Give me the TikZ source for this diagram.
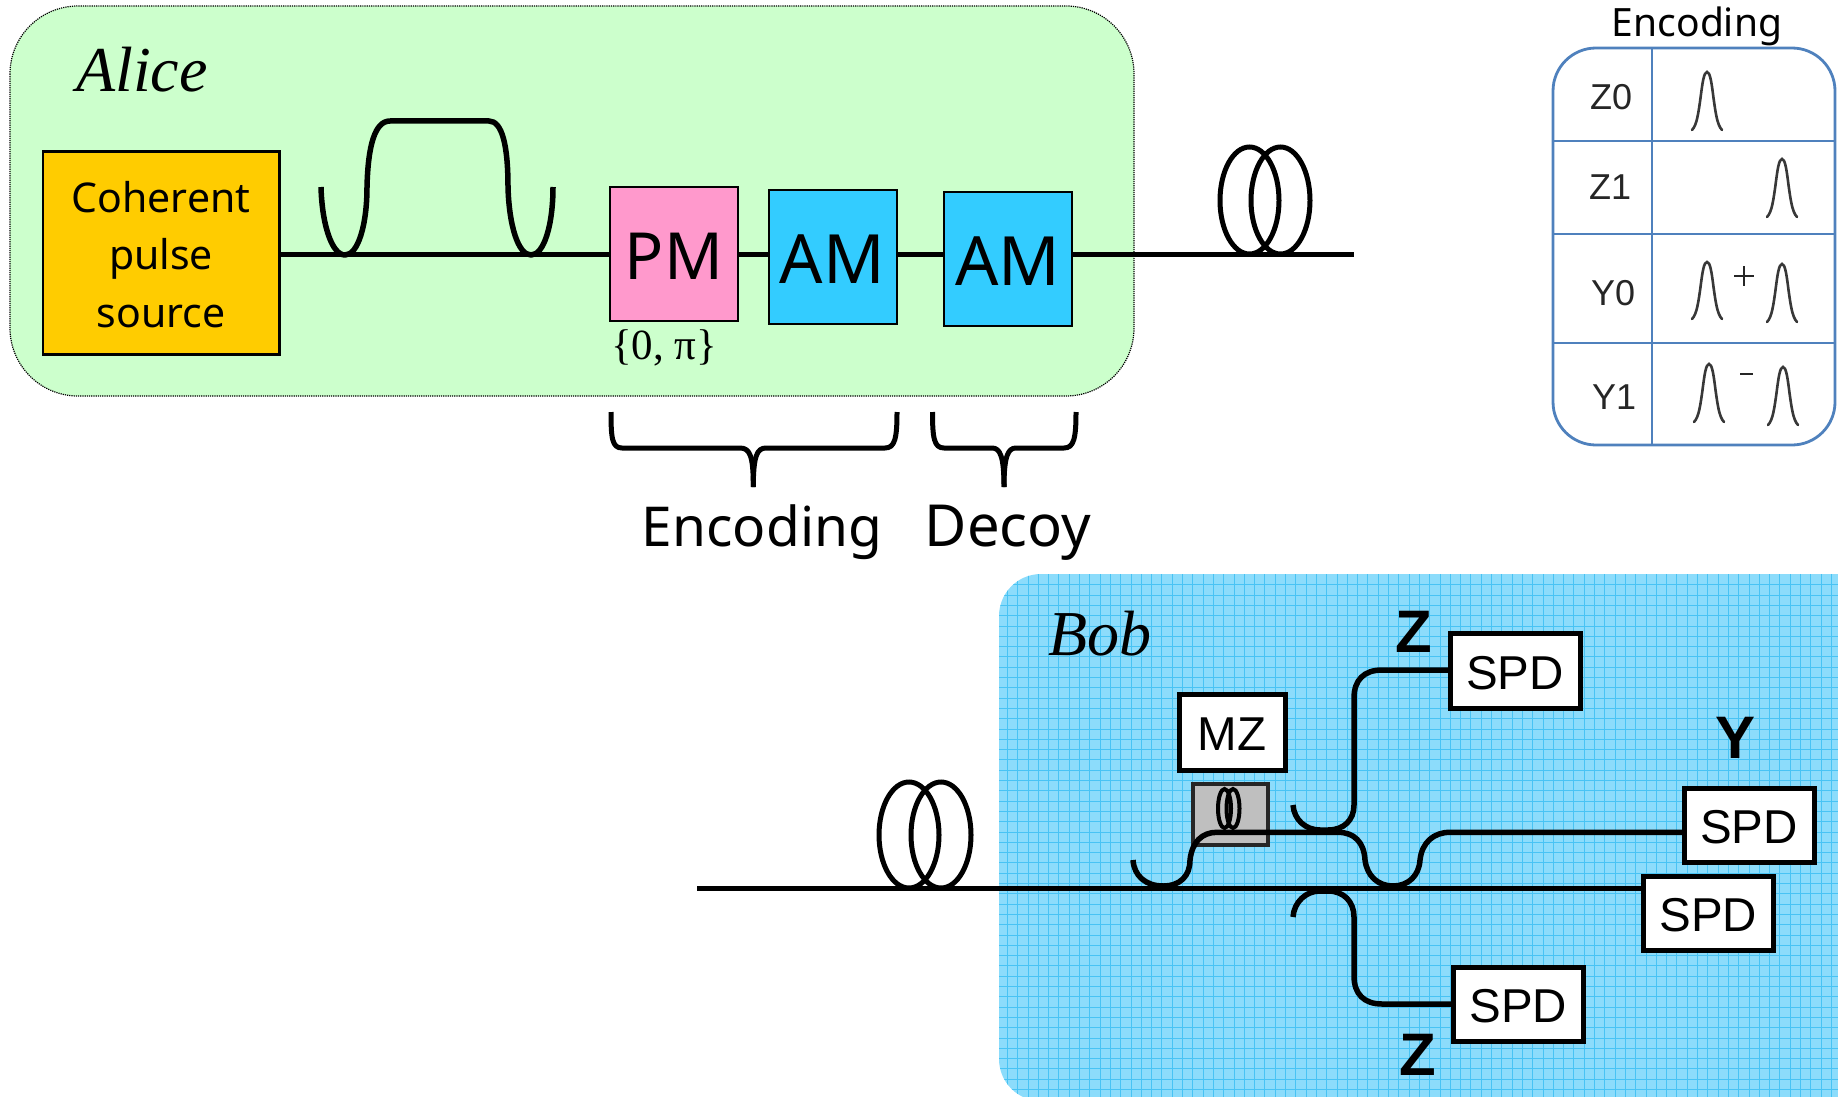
\documentclass[tikz,border=0pt]{standalone}
\usepackage{fontspec}
\setmainfont{Noto Sans}
\newfontfamily\timesf{Liberation Serif}
\newfontfamily\arialf{Liberation Sans}
\usetikzlibrary{calc}
\definecolor{alicefill}{HTML}{CCFFCC}
\definecolor{bobfill}{HTML}{8CDCFB}
\definecolor{bobgrid}{HTML}{48C3F4}
\definecolor{srcfill}{HTML}{FFCC00}
\definecolor{pmfill}{HTML}{FF99CC}
\definecolor{amfill}{HTML}{33CCFF}
\definecolor{tabline}{HTML}{4F81BD}
\newcommand{\fs}[1]{\fontsize{#1}{#1}\selectfont}
\newcommand{\lowered}[1]{\raisebox{-2pt}[\height][0pt]{#1}}
\tikzset{
  x=1pt,y=-1pt,
  fibre/.style={line width=5.5pt,line cap=butt,line join=round},
  bracket/.style={line width=5pt,line cap=butt,line join=round},
  srcbox/.style={draw=black,line width=2.2pt,fill=srcfill,align=center,inner sep=0pt},
  modbox/.style={draw=black,line width=2pt,inner sep=0pt},
  spdbox/.style={draw=black,line width=5pt,fill=white,inner sep=0pt,font=\arialf\fs{47.5}},
  coil/.style={draw=black,line width=5pt},
  basislab/.style={font=\arialf\bfseries\fs{60},inner sep=0pt},
  celllab/.style={font=\arialf\fs{36},text=black!85,inner sep=0pt},
  tab/.style={draw=tabline,line width=2.8pt},
  pulse/.style={draw=black!78,line width=2.6pt,line cap=round},
}
\newcommand{\boxnode}[7]{% name, style, x0,y0,x1,y1 (centre lines), text
  \node[#2,outer sep=0pt,minimum width=#5pt-#3pt,minimum height=#6pt-#4pt,anchor=north west] (#1) at (#3,#4) {#7};}
\newcommand{\pulseshape}[3]{% peak x, peak y, base y
  \draw[pulse] (#1-15,#3) .. controls (#1-10,#3-5) and (#1-8.5,#3-18) .. (#1-6.5,#3-32)
    .. controls (#1-4.5,#3-48) and (#1-3,#2) .. (#1,#2)
    .. controls (#1+3,#2) and (#1+4.5,#3-48) .. (#1+6.5,#3-32)
    .. controls (#1+8.5,#3-18) and (#1+10,#3-5) .. (#1+15,#3);}
\begin{document}
\begin{tikzpicture}
\useasboundingbox (0,0) rectangle (1838,1097);
% Alice panel
\fill[alicefill,rounded corners=68pt] (10,6) rectangle (1134,396);
\draw[black,line width=1.2pt,densely dotted,rounded corners=68pt] (10,6) rectangle (1134,396);
% Bob panel
\begin{scope}
\clip[rounded corners=42pt] (999,574) rectangle (1900,1101) ;
\fill[bobfill] (999,574) rectangle (1838,1097);
\foreach \i in {0,...,82} {\draw[bobgrid,line width=0.8pt] (1007.3+\i*10.3,574) -- (1007.3+\i*10.3,1097);}
\foreach \i in {0,...,51} {\draw[bobgrid,line width=0.8pt] (999,584.7+\i*10.3) -- (1838,584.7+\i*10.3);}
\end{scope}
% Alice components
\boxnode{src}{srcbox}{43}{151.5}{279.5}{354.5}{}
\node[align=center,font=\fontsize{41}{57.4}\selectfont,inner sep=0pt] (srctext) at (161,254.5) {Coherent\\pulse\\source};
\boxnode{pm}{modbox,fill=pmfill,font=\fs{65}}{610}{187}{738}{321.3}{\lowered{PM}}
\boxnode{am1}{modbox,fill=amfill,font=\fs{68}}{768.5}{190}{896.5}{324}{\lowered{AM}}
\boxnode{am2}{modbox,fill=amfill,font=\fs{68}}{944}{192}{1072}{326}{\lowered{AM}}
\coordinate (aout) at (1354,254.5);
\draw[fibre] (src.east |- 0,254.5) -- (pm.west |- 0,254.5);
\draw[fibre] (pm.east |- 0,254.5) -- (am1.west |- 0,254.5);
\draw[fibre] (am1.east |- 0,254.5) -- (am2.west |- 0,254.5);
\draw[fibre] (am2.east |- 0,254.5) -- (aout);
% Alice coupler
\draw[fibre] (321,187) .. controls (322,225) and (332,255) .. (345,255)
  .. controls (358,255) and (367,225) .. (367,187)
  .. controls (368,145) and (375,121) .. (390,121) -- (489,121)
  .. controls (502,121) and (508,145) .. (508,187)
  .. controls (509,225) and (518,255) .. (531,255)
  .. controls (544,255) and (553,225) .. (553,187);
% Alice coil
\draw[coil] (1249.5,200.5) ellipse [x radius=29.5,y radius=53.5];
\draw[coil] (1280.5,200.5) ellipse [x radius=29.5,y radius=53.5];
% Alice labels
\node[font=\timesf\itshape\fs{64},inner sep=0pt] (alice) at (142,70) {Alice};
\node[font=\timesf\fs{43},inner sep=0pt,anchor=base] (phase) at (664,359) {\{0, π\}};
% braces
\draw[bracket] (611,412) .. controls (611,438) and (612,448) .. (622,448) -- (740,448)
  .. controls (750,448) and (753.3,456) .. (753.3,487);
\draw[bracket] (753.3,487) .. controls (753.3,456) and (757,448) .. (766,448) -- (885,448)
  .. controls (895,448) and (897,438) .. (897,412);
\draw[bracket] (932.5,412) .. controls (932.5,438) and (934,448) .. (944,448) -- (992,448)
  .. controls (1000,448) and (1004,456) .. (1004,487);
\draw[bracket] (1004,487) .. controls (1004,456) and (1008,448) .. (1016,448) -- (1064,448)
  .. controls (1074,448) and (1076,438) .. (1076,412);
\node[font=\fs{55},inner sep=0pt,anchor=base] (encl) at (762,546) {Encoding};
\node[font=\fs{58},inner sep=0pt,anchor=base] (decl) at (1008,546) {Decoy};
% Encoding table
\node[font=\fs{39},inner sep=0pt,anchor=base] (enct) at (1697,37) {Encoding};
\fill[white,rounded corners=43pt] (1553,48) rectangle (1835,445);
\draw[tab,rounded corners=43pt] (1553,48) rectangle (1835,445);
\draw[tab] (1652,48) -- (1652,445);
\draw[tab] (1553,141) -- (1835,141);
\draw[tab] (1553,234) -- (1835,234);
\draw[tab] (1553,343) -- (1835,343);
\node[celllab] (z0) at (1611,97) {Z0};
\node[celllab] (z1) at (1610,187) {Z1};
\node[celllab] (y0) at (1613,293) {Y0};
\node[celllab] (y1) at (1614,397) {Y1};
\pulseshape{1707}{72}{130}
\pulseshape{1782}{159}{217}
\pulseshape{1707}{262}{319}
\pulseshape{1782}{264}{322}
\pulseshape{1709}{364}{422}
\pulseshape{1783}{367}{425}
\draw[black!85,line width=2.6pt] (1744,266) -- (1744,286) (1734,276) -- (1754,276);
\draw[black!85,line width=2.6pt] (1740,374) -- (1753,374);
% Bob components
\boxnode{mz}{spdbox}{1179}{694.5}{1285}{770.5}{\lowered{MZ}}
\boxnode{delay}{draw=black!85,line width=3.5pt,fill=black!25,inner sep=0pt}{1193}{784}{1268}{845}{}
\draw[black,line width=4pt] (1224.5,808.5) ellipse [x radius=6.5,y radius=19.5];
\draw[black,line width=4pt] (1233,808.5) ellipse [x radius=6.5,y radius=19.5];
\boxnode{spdz}{spdbox}{1450}{633.5}{1580}{708}{\lowered{SPD}}
\boxnode{spdy}{spdbox}{1684}{788}{1814}{862.5}{\lowered{SPD}}
\boxnode{spdm}{spdbox}{1643.5}{876}{1773}{950.5}{\lowered{SPD}}
\boxnode{spdb}{spdbox}{1453.5}{967}{1583}{1041.5}{\lowered{SPD}}
\node[basislab] (zu) at (1414,632) {Z};
\node[basislab] (yl) at (1735,738) {Y};
\node[basislab] (zd) at (1418,1055) {Z};
\coordinate (bin) at (697,888.3);
\draw[fibre] (bin) -- (spdm.west |- 0,888.3);
\draw[coil] (909,835) ellipse [x radius=30,y radius=53];
\draw[coil] (941,835) ellipse [x radius=30,y radius=53];
% Bob couplers
\draw[fibre] (1133,860) .. controls (1134,876) and (1146,886) .. (1163,886)
  .. controls (1180,886) and (1190,876) .. (1190,860)
  .. controls (1192,842) and (1202,832.3) .. (1217,832.3) -- (1338,832.3)
  .. controls (1354,832.3) and (1364,842) .. (1365,860)
  .. controls (1367,876) and (1378,886) .. (1393,886)
  .. controls (1408,886) and (1419,876) .. (1420,860)
  .. controls (1422,842) and (1434,832.3) .. (1450,832.3) -- (spdy.west |- 0,832.3);
\draw[fibre] (1293,805) .. controls (1294,820) and (1306,830) .. (1320,830) -- (1328,830)
  .. controls (1344,830) and (1354,820) .. (1354,805) -- (1354,698)
  .. controls (1354,680) and (1364,670) .. (1382,670) -- (spdz.west |- 0,670);
\draw[fibre] (1293,917) .. controls (1294,902) and (1306,891) .. (1320,891) -- (1328,891)
  .. controls (1344,891) and (1354,902) .. (1354,917) -- (1354,976)
  .. controls (1354,994) and (1364,1004) .. (1382,1004) -- (spdb.west |- 0,1004);
\node[font=\timesf\itshape\fs{64},inner sep=0pt] (bob) at (1100,634) {Bob};
\end{tikzpicture}
\end{document}
